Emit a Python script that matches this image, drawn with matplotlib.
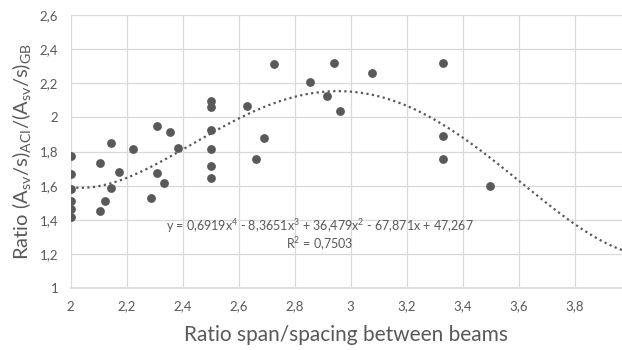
import numpy as np
import matplotlib
matplotlib.use("Agg")
import matplotlib.pyplot as plt

# ratio span/spacing vs ratio of required stirrups (ACI / GB)
span_ratio = [2.0, 2.0, 2.0, 2.0, 2.0, 2.0,
              2.105, 2.105, 2.122, 2.144, 2.144, 2.174, 2.224,
              2.287, 2.307, 2.307, 2.334, 2.355, 2.382,
              2.5, 2.5, 2.5, 2.5, 2.5, 2.5,
              2.631, 2.663, 2.691, 2.727, 2.855, 2.916, 2.940, 2.962,
              3.077, 3.331, 3.331, 3.331, 3.497]
stirrup_ratio = [1.775, 1.668, 1.580, 1.512, 1.461, 1.418,
                 1.733, 1.453, 1.510, 1.852, 1.584, 1.678, 1.813,
                 1.529, 1.951, 1.676, 1.614, 1.916, 1.822,
                 2.098, 2.059, 1.926, 1.813, 1.717, 1.643,
                 2.067, 1.754, 1.877, 2.313, 2.209, 2.127, 2.317, 2.039,
                 2.262, 2.317, 1.893, 1.754, 1.600]

# polynomial trendline coefficients as printed on the chart
trend_coefs = [0.6919, -8.3651, 36.479, -67.871, 47.267]
r_squared = "0,7503"

x_ticks = [2.0, 2.2, 2.4, 2.6, 2.8, 3.0, 3.2, 3.4, 3.6, 3.8]
x_ticklabels = ["2", "2,2", "2,4", "2,6", "2,8", "3", "3,2", "3,4", "3,6", "3,8"]
y_ticks = [1.0, 1.2, 1.4, 1.6, 1.8, 2.0, 2.2, 2.4, 2.6]
y_ticklabels = ["1", "1,2", "1,4", "1,6", "1,8", "2", "2,2", "2,4", "2,6"]

plt.rcParams["font.family"] = ["Lato", "DejaVu Sans"]
plt.rcParams["mathtext.fontset"] = "custom"
plt.rcParams["mathtext.rm"] = "Lato"
plt.rcParams["mathtext.it"] = "Lato:italic"
plt.rcParams["mathtext.bf"] = "Lato:bold"

grey = "#595959"
grid_col = "#d9d9d9"

fig = plt.figure(figsize=(6.22, 3.5), dpi=100)
ax = fig.add_axes([0.1137, 0.177, 0.8863, 0.78])

ax.scatter(span_ratio, stirrup_ratio, s=40, color=grey, zorder=3, linewidths=0)

xs = np.linspace(2.0, 3.97, 200)
ax.plot(xs, np.polyval(trend_coefs, xs), linestyle=(0, (1, 1.5)), color=grey,
        lw=1.6, zorder=2)

ax.set_xlim(2.0, 3.969)
ax.set_ylim(1.0, 2.6)
ax.set_xticks(x_ticks)
ax.set_xticklabels(x_ticklabels)
ax.set_yticks(y_ticks)
ax.set_yticklabels(y_ticklabels)
ax.tick_params(length=0, colors=grey, labelsize=9.5)
ax.tick_params(axis="x", pad=9)
ax.tick_params(axis="y", pad=9)

ax.grid(True, color=grid_col, lw=0.9)
ax.set_axisbelow(True)
for side in ["top", "right", "left"]:
    ax.spines[side].set_visible(False)
ax.spines["bottom"].set_color(grid_col)
ax.spines["bottom"].set_linewidth(1.2)

ax.set_xlabel("Ratio span/spacing between beams", fontsize=15, color=grey,
              labelpad=9)
ax.set_ylabel(r"Ratio (A$_{\mathregular{sv}}$/s)$_{\mathregular{ACI}}$"
              r"/(A$_{\mathregular{sv}}$/s)$_{\mathregular{GB}}$",
              fontsize=14.5, color=grey, labelpad=5)

eq = (r"y = 0,6919x$^{\mathregular{4}}$ - 8,3651x$^{\mathregular{3}}$ + "
      r"36,479x$^{\mathregular{2}}$ - 67,871x + 47,267")
ax.text(2.89, 1.362, eq, fontsize=9, color=grey, ha="center", va="center")
ax.text(2.89, 1.255, "R$^{\\mathregular{2}}$ = " + r_squared, fontsize=9,
        color=grey, ha="center", va="center")

fig.savefig("out.png", dpi=100)
